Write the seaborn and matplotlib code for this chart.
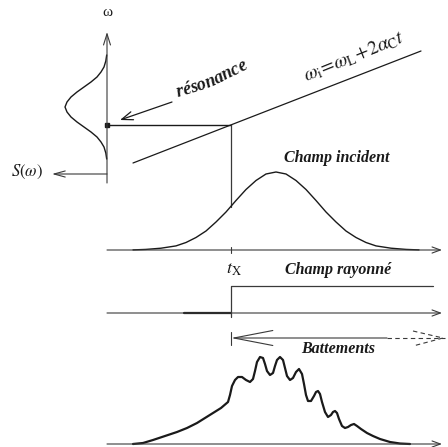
import numpy as np
import matplotlib.pyplot as plt
import seaborn as sns

# spectre S(omega) le long de l'axe vertical
spec_w = [55, 61, 67, 72, 77, 82, 87, 92, 97, 102, 107, 112, 117, 122, 127, 132, 137, 142, 147, 153, 159]
spec_s = [0.3, 1.2, 3, 6, 10, 16, 23, 30, 36, 40, 42, 40, 36, 30, 23, 16, 10, 6, 3, 1.2, 0.3]

# champ incident (impulsion)
inc_t = [133, 146, 161, 176, 186, 196, 206, 216, 226, 236, 246, 256, 266, 276,
         286, 296, 306, 316, 326, 336, 346, 356, 366, 376, 391, 406, 419]
inc_a = [0.1, 0.6, 1.8, 4.1, 7.5, 12.5, 19, 28, 38, 49.5, 60.5, 69.5, 76, 78,
         76, 69.5, 60.5, 49.5, 38, 28, 19, 12.5, 7.5, 4.1, 1.8, 0.6, 0.1]

# signal avec battements
beat_t = [133, 143, 153, 165, 177, 187, 197, 205, 213, 221, 228, 230, 232, 235, 238, 242, 246, 250,
          253, 255, 257, 260, 263, 265, 267, 270, 273, 275, 277, 280, 283, 285, 287, 290, 293, 296,
          299, 302, 304, 306, 308, 311, 314, 316, 318, 320, 322, 325, 328, 331, 333, 335, 337, 339,
          342, 345, 348, 351, 354, 357, 361, 367, 373, 380, 390, 400, 410]
beat_a = [0, 1, 4, 8, 12, 16, 21, 26, 31, 36, 42, 49, 58, 64, 67, 67, 64, 62,
          65, 73, 82, 87, 86, 80, 73, 69, 71, 78, 84, 87, 84, 76, 68, 64, 66, 72,
          75, 70, 60, 49, 43, 43, 48, 52, 53, 50, 42, 32, 27, 29, 32, 33, 31, 25,
          18, 16, 17, 19, 20, 18, 15, 11, 8, 5, 2, 0.5, 0]

# droite omega_i = omega_L + 2 alpha_C t
chirp_t = [133, 421]
chirp_w = [163, 51]

base_inc = 250
base_ray = 313
base_beat = 444
t_x = 231
w_res = 125
w_axis = 107

sns.set_theme(style="white")
plt.rcParams['font.family'] = ['Liberation Serif', 'DejaVu Serif']
plt.rcParams['mathtext.fontset'] = 'stix'

fig = plt.figure(figsize=(4.48, 4.47), dpi=100)
ax = fig.add_axes([0, 0, 1, 1])
ax.set_xlim(0, 448)
ax.set_ylim(447, 0)
ax.axis('off')
renderer = fig.canvas.get_renderer()

ink = '#1a1a1a'
grey = '#3a3a3a'


def arrow(start, tip, scale=10, hl=0.7, hw=0.22, lw=0.8, color=grey, ls='-'):
    ax.annotate('', xy=tip, xytext=start,
                arrowprops=dict(arrowstyle=f'->,head_length={hl},head_width={hw}',
                                lw=lw, color=color, ls=ls, shrinkA=0, shrinkB=0,
                                mutation_scale=scale))


def curved_text(text, size, x, y, ang0, dang, **kw):
    # pose chaque lettre le long d'une courbe qui se redresse
    ang = ang0
    for s in text:
        t = ax.text(0, 0, s, fontsize=size, ha='left', va='baseline', color=ink, **kw)
        w = t.get_window_extent(renderer).width
        a = np.radians(ang)
        t.set_position((x, y))
        t.set_rotation(ang)
        t.set_rotation_mode('anchor')
        x += w * np.cos(a)
        y -= w * np.sin(a)
        ang += dang


# axe omega + spectre
arrow((w_axis, 183), (w_axis, 32), hl=0.8, hw=0.25)
sns.lineplot(x=[w_axis - s for s in spec_s], y=spec_w, sort=False, estimator=None,
             color=ink, lw=1.0, ax=ax)
arrow((w_axis, 174), (52, 174), hl=0.8, hw=0.22)
ax.text(w_axis, 12, 'ω', ha='center', va='center', fontsize=11, color=ink)
ax.text(27, 172, r'$S(\omega)$', ha='center', va='center', fontsize=12, color=ink)
ax.plot([w_axis], [w_res], marker='s', ms=3.5, color=ink)

# resonance
ax.plot([w_axis, t_x], [w_res, w_res], color=ink, lw=1.0)
ax.plot([t_x, t_x], [w_res, 207], color=grey, lw=0.9)
sns.lineplot(x=chirp_t, y=chirp_w, sort=False, estimator=None, color=ink, lw=0.9, ax=ax)
arrow((172, 102), (120, 120), hl=0.8, hw=0.3, lw=0.9, color=ink)

curved_text('résonance', 13, 178, 97, 14, 2.0, style='italic', weight='bold')
ax.text(306, 82, r'$\omega_{\mathrm{i}}\!=\!\omega_{\mathrm{L}}\!+\!2\alpha_{\mathrm{C}}t$',
        fontsize=14, rotation=22, rotation_mode='anchor', ha='left', va='baseline',
        color=ink)

# champ incident
ax.text(337, 158, 'Champ incident', ha='center', va='center', fontsize=11.5,
        style='italic', weight='bold', color=ink)
sns.lineplot(x=inc_t, y=[base_inc - a for a in inc_a], sort=False, estimator=None,
             color=ink, lw=1.0, ax=ax)
arrow((w_axis, base_inc), (442, base_inc), hl=0.6, hw=0.22)
ax.plot([t_x, t_x], [base_inc - 3, base_inc + 3], color=grey, lw=0.8)

# champ rayonne
ax.text(t_x + 3, 270, r'$t_{\mathrm{X}}$', ha='center', va='center', fontsize=13, color=ink)
ax.text(338, 270, 'Champ rayonné', ha='center', va='center', fontsize=11.5,
        style='italic', weight='bold', color=ink)
arrow((w_axis, base_ray), (442, base_ray), hl=0.6, hw=0.22)
ax.plot([184, t_x], [base_ray, base_ray], color=ink, lw=1.6)
ax.plot([t_x, t_x, 433], [base_ray + 4, 286, 286], color=grey, lw=0.9)

# battements
ax.plot([t_x, t_x], [332, 345], color=grey, lw=0.8)
arrow((387, 338), (t_x, 338), scale=20, hl=1.4, hw=0.27, lw=0.8)
ax.plot([387, 445], [338, 338], color=grey, lw=0.8, ls=(0, (4, 3)))
ax.plot([413, 443, 413], [331, 338, 346], color=grey, lw=0.8, ls=(0, (4, 3)))
ax.text(338, 349, 'Battements', ha='center', va='center', fontsize=11.5,
        style='italic', weight='bold', color=ink)
sns.lineplot(x=beat_t, y=[base_beat - a for a in beat_a], sort=False, estimator=None,
             color=ink, lw=1.6, ax=ax)
arrow((w_axis, base_beat), (442, base_beat), hl=0.6, hw=0.22)

fig.savefig('out.png', dpi=100)
